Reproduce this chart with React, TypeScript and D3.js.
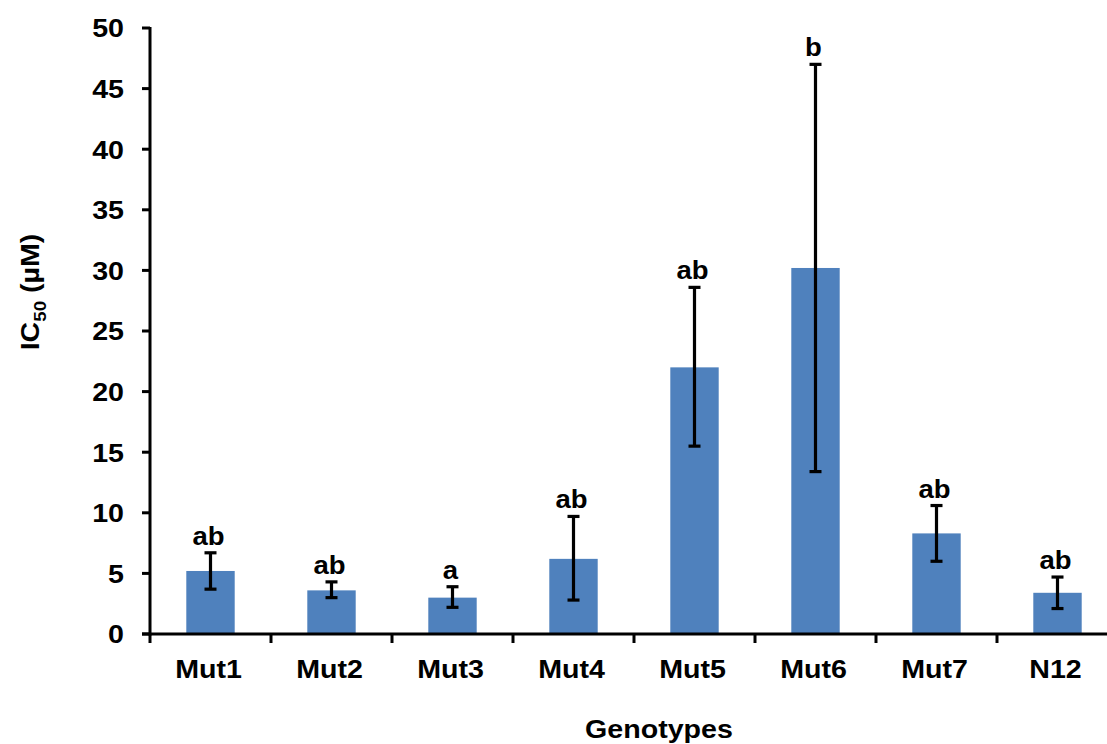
import React from "react";
import * as d3 from "d3";

const genotypes = ["Mut1", "Mut2", "Mut3", "Mut4", "Mut5", "Mut6", "Mut7", "N12"];
const ic50Means = [5.2, 3.6, 3.0, 6.2, 22.0, 30.2, 8.3, 3.4];
const errLow = [3.7, 3.0, 2.2, 2.8, 15.5, 13.4, 6.0, 2.1];
const errHigh = [6.7, 4.3, 3.9, 9.7, 28.6, 47.0, 10.6, 4.7];
const groupLetters = ["ab", "ab", "a", "ab", "ab", "b", "ab", "ab"];
const yTicks = [0, 5, 10, 15, 20, 25, 30, 35, 40, 45, 50];

const W = 1107;
const H = 744;
const left = 150;
const step = 121;
const top = 28;
const bottom = 634;
const FONT = "'Liberation Sans', Arial, sans-serif";
const SX = 1.1; // slightly wide lettering

function Label(props: {
  x: number;
  y: number;
  size: number;
  anchor?: string;
  dy?: string;
  children: React.ReactNode;
}) {
  return (
    <text
      transform={`translate(${props.x},${props.y}) scale(${SX},1)`}
      textAnchor={props.anchor ?? "middle"}
      dy={props.dy}
      fontSize={props.size}
    >
      {props.children}
    </text>
  );
}

export default function App() {
  const x = d3
    .scaleBand<string>()
    .domain(genotypes)
    .range([left, left + step * genotypes.length])
    .paddingInner(0.6)
    .paddingOuter(0.3);
  const y = d3.scaleLinear().domain([0, 50]).range([bottom, top]);
  const capHalf = 6;
  const boundaries = d3.range(genotypes.length + 1).map((i) => left + i * step);
  const cx = (g: string) => (x(g) as number) + x.bandwidth() / 2;

  return (
    <svg
      width={W}
      height={H}
      style={{ position: "absolute", left: 0, top: 0, background: "#fff" }}
      fontFamily={FONT}
      fontWeight="bold"
    >
      {/* bars */}
      {genotypes.map((g, i) => (
        <rect
          key={g}
          x={x(g)}
          y={y(ic50Means[i])}
          width={x.bandwidth()}
          height={y(0) - y(ic50Means[i])}
          fill="#4F81BD"
        />
      ))}
      {/* error bars */}
      {genotypes.map((g, i) => (
        <g key={g} stroke="#000" strokeWidth={3.2}>
          <line x1={cx(g)} x2={cx(g)} y1={y(errLow[i])} y2={y(errHigh[i])} />
          <line x1={cx(g) - capHalf} x2={cx(g) + capHalf} y1={y(errHigh[i])} y2={y(errHigh[i])} />
          <line x1={cx(g) - capHalf} x2={cx(g) + capHalf} y1={y(errLow[i])} y2={y(errLow[i])} />
        </g>
      ))}
      {/* significance letters */}
      {genotypes.map((g, i) => (
        <Label key={g} x={cx(g) - 2} y={y(errHigh[i]) - 8} size={25}>
          {groupLetters[i]}
        </Label>
      ))}
      {/* y axis */}
      <line x1={left} x2={left} y1={top - 1} y2={bottom + 1.5} stroke="#000" strokeWidth={3} />
      {yTicks.map((t) => (
        <g key={t}>
          <line x1={left - 8} x2={left} y1={y(t)} y2={y(t)} stroke="#000" strokeWidth={3} />
          <Label x={124} y={y(t)} dy="0.36em" anchor="end" size={26}>
            {t}
          </Label>
        </g>
      ))}
      {/* x axis */}
      <line x1={left - 8} x2={W} y1={bottom} y2={bottom} stroke="#000" strokeWidth={3} />
      {boundaries.map((bx) => (
        <line key={bx} x1={bx} x2={bx} y1={bottom} y2={bottom + 9} stroke="#000" strokeWidth={3} />
      ))}
      {genotypes.map((g) => (
        <Label key={g} x={cx(g) - 2} y={678} size={26}>
          {g}
        </Label>
      ))}
      {/* axis titles */}
      <Label x={659} y={738} size={26}>
        Genotypes
      </Label>
      <text transform={`translate(39,292) rotate(-90) scale(${SX},1)`} textAnchor="middle" fontSize={26}>
        IC
        <tspan fontSize={17} dy={7}>
          50
        </tspan>
        <tspan dy={-7}> (µM)</tspan>
      </text>
    </svg>
  );
}
